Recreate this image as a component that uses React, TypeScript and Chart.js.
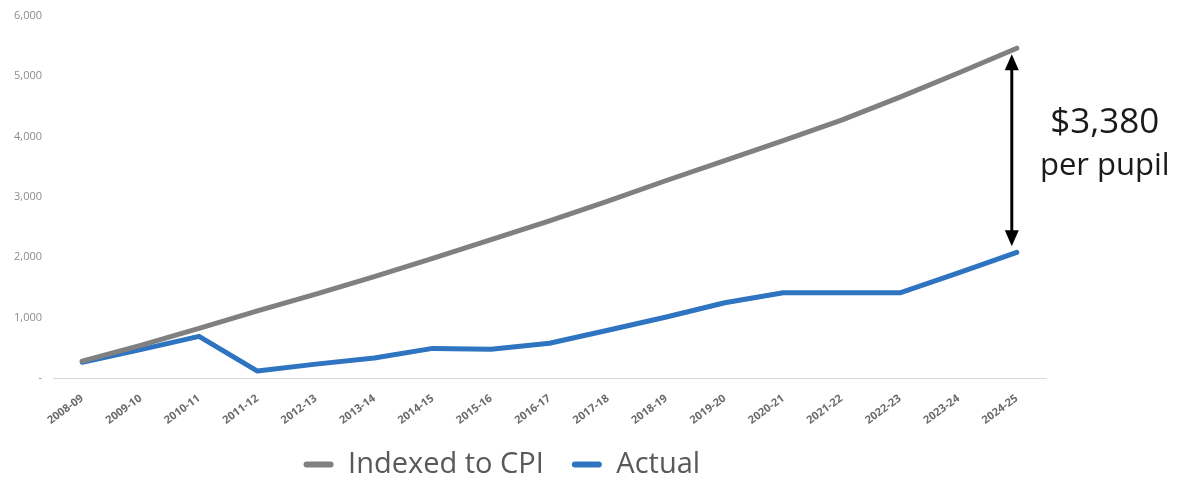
import React, { useEffect, useRef } from "react";
import { Chart, registerables } from "chart.js";

Chart.register(...registerables);

const categories = [
  "2008-09", "2009-10", "2010-11", "2011-12", "2012-13", "2013-14", "2014-15",
  "2015-16", "2016-17", "2017-18", "2018-19", "2019-20", "2020-21", "2021-22",
  "2022-23", "2023-24", "2024-25",
];
const indexedToCPI = [280, 540, 820, 1110, 1390, 1680, 1980, 2290, 2600, 2930, 3270, 3600, 3930, 4270, 4650, 5050, 5460];
const actual = [260, 470, 690, 115, 230, 330, 490, 475, 575, 790, 1010, 1245, 1410, 1410, 1410, 1740, 2080];
const gapLabel = ["$3,380", "per pupil"];

const GREY = "#808080";
const BLUE = "#2E74C0";

const annotationPlugin = {
  id: "gapAnnotation",
  afterLayout(chart: any) {
    const lg = chart.legend;
    const ca = chart.chartArea;
    if (lg && ca) {
      const w = lg.right - lg.left;
      const target = ca.left + (ca.right - ca.left) * 0.452;
      lg.left = target - w / 2;
      lg.right = target + w / 2;
      lg.top -= 12;
      lg.bottom -= 12;
    }
  },
  afterDatasetsDraw(chart: any) {
    const { ctx, scales } = chart;
    const last = categories.length - 1;
    const x = scales.x.getPixelForValue(last) - 5;
    const yTop = scales.y.getPixelForValue(indexedToCPI[last]) + 6;
    const yBot = scales.y.getPixelForValue(actual[last]) - 6;
    ctx.save();
    ctx.strokeStyle = "#000";
    ctx.fillStyle = "#000";
    ctx.lineWidth = 3;
    ctx.beginPath();
    ctx.moveTo(x, yTop + 10);
    ctx.lineTo(x, yBot - 10);
    ctx.stroke();
    ctx.beginPath();
    ctx.moveTo(x, yTop);
    ctx.lineTo(x - 7, yTop + 16);
    ctx.lineTo(x + 7, yTop + 16);
    ctx.closePath();
    ctx.fill();
    ctx.beginPath();
    ctx.moveTo(x, yBot);
    ctx.lineTo(x - 7, yBot - 16);
    ctx.lineTo(x + 7, yBot - 16);
    ctx.closePath();
    ctx.fill();
    ctx.fillStyle = "#1a1a1a";
    ctx.textAlign = "center";
    ctx.textBaseline = "middle";
    const tx = x + 93;
    const mid = (yTop + yBot) / 2;
    ctx.font = "35px 'Open Sans', sans-serif";
    ctx.fillText(gapLabel[0], tx, mid - 27);
    ctx.font = "31px 'Open Sans', sans-serif";
    ctx.fillText(gapLabel[1], tx, mid + 16);
    ctx.restore();
  },
};

export default function App() {
  const ref = useRef<HTMLCanvasElement>(null);
  useEffect(() => {
    if (!ref.current) return;
    const chart = new Chart(ref.current, {
      type: "line",
      data: {
        labels: categories,
        datasets: [
          {
            label: "Indexed to CPI",
            data: indexedToCPI,
            borderColor: GREY,
            backgroundColor: GREY,
            borderWidth: 5,
            pointRadius: 0,
            tension: 0,
            borderCapStyle: "round",
            borderJoinStyle: "round",
          },
          {
            label: "Actual",
            data: actual,
            borderColor: BLUE,
            backgroundColor: BLUE,
            borderWidth: 5,
            pointRadius: 0,
            tension: 0,
            borderCapStyle: "round",
            borderJoinStyle: "round",
          },
        ],
      },
      options: {
        animation: false,
        responsive: true,
        maintainAspectRatio: false,
        layout: { padding: { top: 1, right: 130, left: 0, bottom: 0 } },
        plugins: {
          tooltip: { enabled: false },
          legend: {
            position: "bottom",
            labels: {
              color: "#595959",
              font: { family: "'Open Sans', sans-serif", size: 29 },
              boxWidth: 30,
              boxHeight: 6,
              padding: 28,
              useBorderRadius: true,
              borderRadius: 3,
              generateLabels: (c: any) =>
                c.data.datasets.map((d: any, i: number) => ({
                  text: d.label,
                  fillStyle: d.borderColor,
                  strokeStyle: d.borderColor,
                  lineWidth: 0,
                  fontColor: "#595959",
                  datasetIndex: i,
                  borderRadius: 3,
                })),
            },
          },
        },
        scales: {
          x: {
            offset: true,
            grid: { display: false, drawTicks: false },
            border: { display: true, color: "#d9d9d9", width: 1 },
            ticks: {
              color: "#6b6b6b",
              font: { family: "'Open Sans', sans-serif", size: 11, weight: "bold" },
              maxRotation: 36,
              minRotation: 36,
              padding: 14,
              autoSkip: false,
            },
            afterFit: (s: any) => {
              s.height = 56;
            },
          },
          y: {
            min: 0,
            max: 6000,
            grid: { display: false, drawTicks: false },
            border: { display: false },
            ticks: {
              stepSize: 1000,
              color: "#8c8c8c",
              font: { family: "'Open Sans', sans-serif", size: 11 },
              padding: 11,
              callback: (v: any) => (v === 0 ? "-" : Number(v).toLocaleString("en-US")),
            },
            afterFit: (s: any) => {
              s.width = 45;
            },
          },
        },
      },
      plugins: [annotationPlugin],
    });
    return () => chart.destroy();
  }, []);
  return (
    <div style={{ width: 1168, height: 503, marginTop: -10, position: "relative" }}>
      <canvas ref={ref} />
    </div>
  );
}
